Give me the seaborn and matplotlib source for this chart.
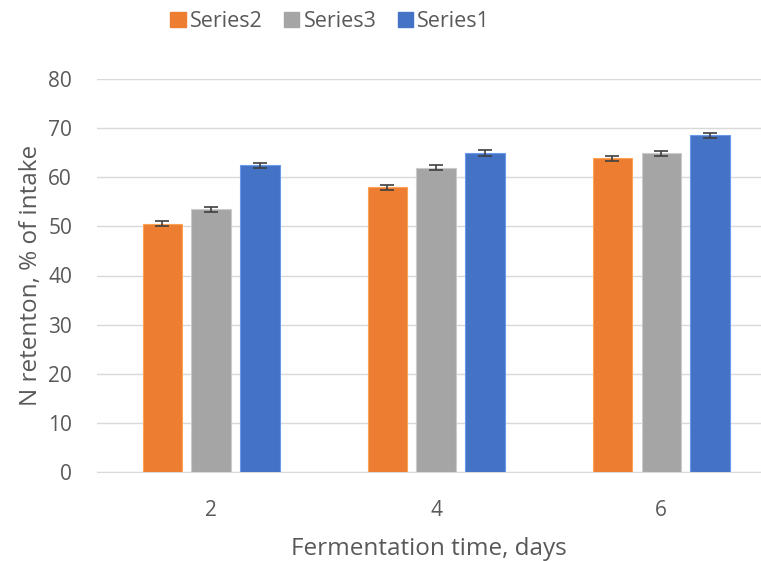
import pandas as pd
import numpy as np
import matplotlib
matplotlib.use("Agg")
import matplotlib.pyplot as plt
import seaborn as sns

days = ["2", "4", "6"]
series_names = ["Series2", "Series3", "Series1"]
series2 = [50.5, 58.0, 63.9]
series3 = [53.5, 61.9, 64.9]
series1 = [62.4, 65.0, 68.5]
err2 = [0.5, 0.5, 0.5]
err3 = [0.5, 0.5, 0.5]
err1 = [0.6, 0.6, 0.6]
colors = ["#ED7D31", "#A5A5A5", "#4472C4"]

df = pd.DataFrame({
    "day": days * 3,
    "series": [s for s in series_names for _ in days],
    "value": series2 + series3 + series1,
    "err": err2 + err3 + err1,
})

sns.set_style("white")
plt.rcParams["font.family"] = ["Open Sans", "DejaVu Sans"]

fig = plt.figure(figsize=(7.61, 5.61), dpi=100)
ax = fig.add_axes([97 / 761, 1 - 472 / 561, 1 - 97 / 761, (472 - 79) / 561])

sns.barplot(data=df, x="day", y="value", hue="series", order=days,
            hue_order=series_names, palette=colors, saturation=1,
            width=0.653, gap=0.2, errorbar=None, ax=ax, zorder=3,
            linewidth=0.8, legend=False)

# lighter outline on bars + error bars at bar centres
for patch in ax.patches:
    fc = patch.get_facecolor()
    patch.set_edgecolor(tuple(min(1, c + 0.15) for c in fc[:3]))
for i, s in enumerate(series_names):
    sub = df[df["series"] == s]
    bars = ax.patches[i * len(days):(i + 1) * len(days)]
    xs = [b.get_x() + b.get_width() / 2 for b in bars]
    ax.errorbar(xs, sub["value"], yerr=sub["err"], fmt="none",
                ecolor="#404040", elinewidth=1.2, capsize=5, capthick=1.2,
                zorder=4)

ax.set_ylim(0, 80)
ax.set_xlim(-0.507, 2.444)
ax.set_yticks(range(0, 81, 10))
ax.yaxis.grid(True, color="#D9D9D9", linewidth=1, zorder=0)
ax.set_axisbelow(True)
for sp in ["top", "right", "left"]:
    ax.spines[sp].set_visible(False)
ax.spines["bottom"].set_color("#D9D9D9")
ax.tick_params(axis="both", length=0, labelsize=15, colors="#595959")
ax.tick_params(axis="y", pad=18)
ax.tick_params(axis="x", pad=20)
ax.set_xlabel("Fermentation time, days", fontsize=17.5, color="#595959", labelpad=12)
ax.set_ylabel("N retenton, % of intake", fontsize=17.5, color="#595959", labelpad=4)

handles = [plt.Rectangle((0, 0), 1, 1, color=c) for c in colors]
fig.legend(handles, series_names, loc="center", bbox_to_anchor=(0.434, 0.962),
           ncol=3, frameon=False, fontsize=15.5, handlelength=0.7,
           handleheight=0.7, handletextpad=0.2, columnspacing=1.0,
           labelcolor="#595959")

fig.savefig("out.png", dpi=100)
